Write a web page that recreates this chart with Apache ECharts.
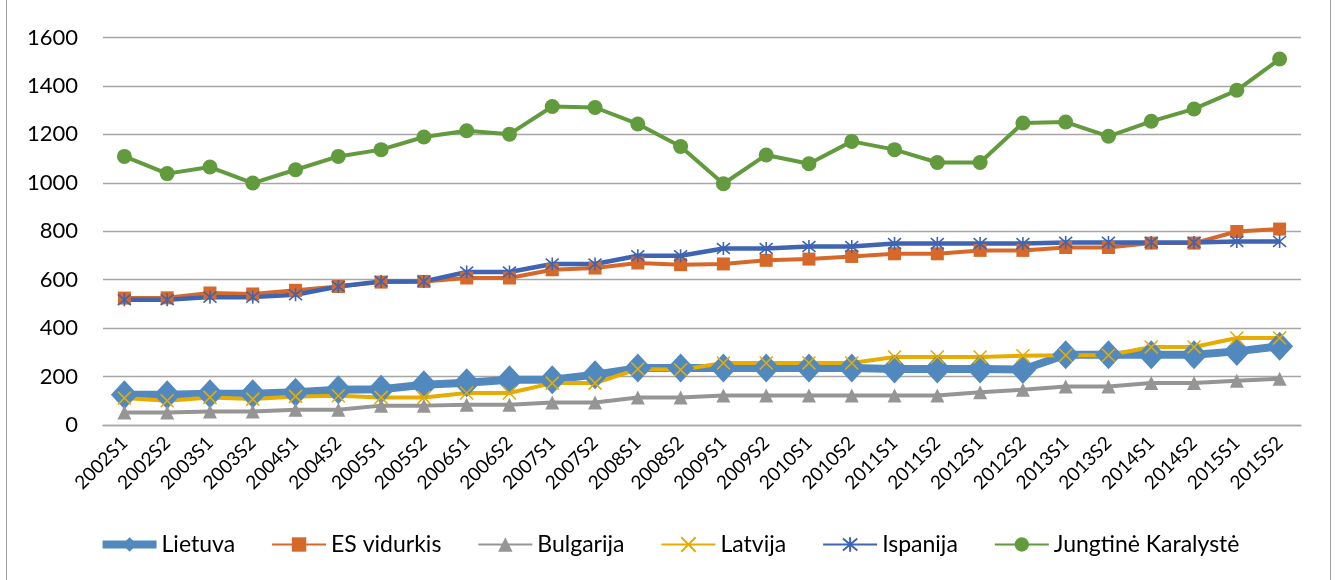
<!DOCTYPE html>
<html lang="lt">
<head>
    <meta charset="UTF-8">
    <title>Lietuva ir ES</title>
    <style>
        body { margin: 0; background: #fff; }
        #frame { position: absolute; left: 6px; top: -2px; width: 1325px; height: 584px; border: 1px solid #a0a0a0; box-sizing: border-box; }
        #main { position: absolute; left: 0; top: 0; width: 1338px; height: 580px; }
    </style>
</head>
<body>
<div id="frame"></div>
<div id="main"></div>
<script src="https://cdn.jsdelivr.net/npm/echarts@6/dist/echarts.min.js"></script>
<script type="text/javascript">
    // pusmečiai
    var periods = ['2002S1', '2002S2', '2003S1', '2003S2', '2004S1', '2004S2', '2005S1', '2005S2',
        '2006S1', '2006S2', '2007S1', '2007S2', '2008S1', '2008S2', '2009S1', '2009S2',
        '2010S1', '2010S2', '2011S1', '2011S2', '2012S1', '2012S2', '2013S1', '2013S2',
        '2014S1', '2014S2', '2015S1', '2015S2'];

    var lietuva = [125, 125, 129, 129, 135, 146, 148, 166, 174, 187, 187, 208, 235, 235, 235, 235,
        235, 235, 231, 231, 231, 229, 290, 290, 290, 290, 304, 325];
    var esVidurkis = [524, 525, 545, 541, 556, 572, 590, 593, 607, 607, 641, 648, 669, 662, 665, 680,
        685, 696, 707, 707, 721, 721, 733, 733, 751, 751, 799, 809];
    var bulgarija = [52, 52, 56, 56, 63, 63, 80, 80, 84, 84, 93, 93, 114, 114, 122, 122,
        122, 122, 122, 122, 135, 146, 159, 159, 173, 173, 183, 191];
    var latvija = [111, 100, 114, 107, 118, 121, 114, 114, 132, 132, 173, 173, 231, 228, 256, 256,
        256, 256, 281, 281, 281, 286, 288, 288, 322, 322, 359, 359];
    var ispanija = [517, 517, 528, 528, 538, 572, 593, 593, 632, 632, 665, 665, 699, 699, 729, 729,
        737, 737, 749, 749, 749, 749, 754, 754, 754, 754, 758, 758];
    var jungtineKaralyste = [1109, 1038, 1065, 999, 1054, 1109, 1137, 1189, 1215, 1201, 1315, 1311, 1243, 1150, 996, 1115,
        1079, 1171, 1137, 1084, 1084, 1247, 1251, 1192, 1254, 1305, 1382, 1511];

    var yTicks = [0, 200, 400, 600, 800, 1000, 1200, 1400, 1600];

    var starPath = 'path://M0,0L10,10M10,0L0,10M5,-1L5,11';
    var crossPath = 'path://M0,0L10,10M10,0L0,10';

    function lineSeries(name, data, color, width, symbol, size, hollow) {
        return {
            name: name,
            type: 'line',
            data: data,
            symbol: symbol,
            symbolSize: size,
            lineStyle: { color: color, width: width },
            itemStyle: hollow
                ? { color: 'rgba(0,0,0,0)', borderColor: color, borderWidth: 1.6 }
                : { color: color },
            emphasis: { disabled: true }
        };
    }

    var myChart = echarts.init(document.getElementById('main'));
    var option = {
        animation: false,
        textStyle: { fontFamily: 'Lato' },
        grid: { left: 103, right: 37, top: 37.5, bottom: 155, containLabel: false },
        legend: {
            bottom: 19,
            left: 'center',
            itemWidth: 54,
            itemHeight: 18,
            itemGap: 36,
            textStyle: { fontSize: 23, color: '#000', fontFamily: 'Lato' },
            data: [
                { name: 'Lietuva', lineStyle: { width: 8 }, itemStyle: { color: '#5189be' } },
                'ES vidurkis', 'Bulgarija', 'Latvija', 'Ispanija', 'Jungtinė Karalystė'
            ]
        },
        xAxis: {
            type: 'category',
            data: periods,
            boundaryGap: true,
            axisLine: { lineStyle: { color: '#a6a6a6', width: 1.3 } },
            axisTick: { show: false },
            axisLabel: { rotate: 45, fontSize: 19, color: '#000', margin: 15, interval: 0 }
        },
        yAxis: {
            type: 'value',
            min: yTicks[0],
            max: yTicks[yTicks.length - 1],
            interval: 200,
            axisLine: { show: false },
            axisTick: { show: false },
            splitLine: { lineStyle: { color: '#a6a6a6', width: 1.3 } },
            axisLabel: { fontSize: 22, color: '#000', margin: 25, formatter: function (v) { return String(v); } }
        },
        series: [
            lineSeries('Lietuva', lietuva, '#5189be', 8, 'diamond', [27, 29], false),
            lineSeries('ES vidurkis', esVidurkis, '#d6692a', 4, 'rect', 13, false),
            lineSeries('Bulgarija', bulgarija, '#959595', 4, 'triangle', 14, false),
            lineSeries('Latvija', latvija, '#e6ac00', 4, crossPath, 13, true),
            lineSeries('Ispanija', ispanija, '#3e64b2', 4.5, starPath, 13, true),
            lineSeries('Jungtinė Karalystė', jungtineKaralyste, '#629a3e', 4, 'circle', 15, false)
        ]
    };
    myChart.setOption(option);
</script>
</body>
</html>
